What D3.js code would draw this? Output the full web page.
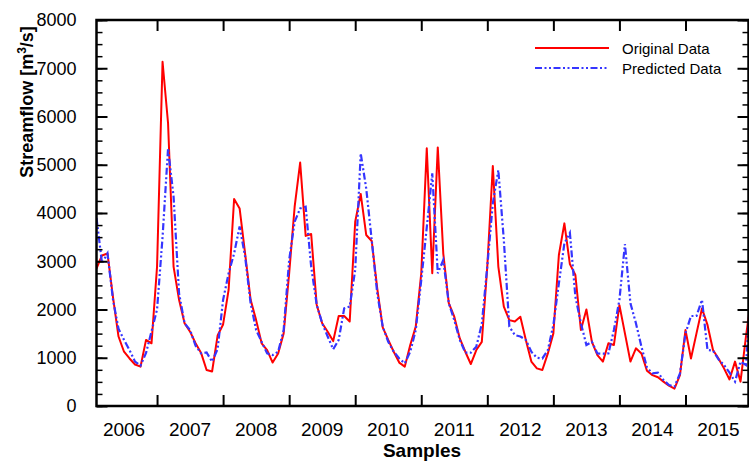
<!DOCTYPE html>
<html>
<head>
<meta charset="utf-8">
<script src="https://cdn.jsdelivr.net/npm/d3@7"></script>
<style>
  body { margin: 0; background: #fff; }
  svg { display: block; font-family: "Liberation Sans", Arial, sans-serif; }
</style>
</head>
<body>
<svg id="chart" width="749" height="463"></svg>
<script>
// monthly samples
var original = [2850, 3120, 3160, 2250, 1440, 1125, 985, 860, 815, 1370, 1300, 2890,
  7135, 5860, 2890, 2200, 1715, 1540, 1300, 1100, 745, 715, 1460, 1690,
  2405, 4290, 4095, 3160, 2200, 1780, 1300, 1160, 900, 1090, 1505, 2750,
  4130, 5045, 3525, 3565, 2100, 1715, 1540, 1345, 1865, 1865, 1750, 3820,
  4395, 3545, 3420, 2440, 1630, 1370, 1125, 900, 815, 1265, 1645, 2750,
  5340, 2750, 5360, 3160, 2130, 1850, 1400, 1125, 870, 1160, 1330, 2900,
  4975, 2890, 2060, 1780, 1750, 1850, 1370, 920, 780, 745, 1090, 1505,
  3130, 3785, 2940, 2715, 1575, 2000, 1330, 1055, 920, 1300, 1265, 2090,
  1505, 920, 1195, 1090, 730, 640, 595, 505, 420, 360, 640, 1575,
  985, 1505, 2020, 1680, 1160, 985, 780, 550, 920, 505, 1450, 2300];

var predicted = [3900, 2960, 3160, 2200, 1600, 1370, 1160, 920, 840, 1100, 1550, 2000,
  3500, 5340, 4340, 2335, 1715, 1575, 1250, 1090, 1110, 920, 1180, 2200,
  2750, 3160, 3720, 3095, 2130, 1575, 1330, 1090, 1055, 1125, 1575, 3025,
  3820, 4095, 4130, 2890, 2100, 1715, 1440, 1175, 1370, 2025, 2060, 2820,
  5235, 4510, 3440, 2335, 1645, 1330, 1125, 985, 885, 1125, 1575, 2610,
  3700, 4820, 2750, 3025, 2130, 1780, 1370, 1105, 1105, 1230, 1700, 2900,
  4200, 4890, 3440, 1645, 1470, 1440, 1370, 1125, 1000, 985, 1160, 1680,
  2540, 3370, 3590, 2265, 1715, 1265, 1330, 1090, 1085, 1090, 1575, 2200,
  3355, 2130, 1715, 1230, 800, 675, 690, 540, 435, 400, 675, 1505,
  1865, 1865, 2200, 1160, 1150, 965, 850, 690, 505, 920, 850, 2700];

var years = [2006, 2007, 2008, 2009, 2010, 2011, 2012, 2013, 2014, 2015];
var yTicks = [0, 1000, 2000, 3000, 4000, 5000, 6000, 7000, 8000];
var firstYearStart = -1;   // sample index where 2006 begins

var svg = d3.select("#chart");
var pL = 96.5, pR = 748.5, pT = 20, pB = 406;

var x = d3.scaleLinear().domain([0, 118.45]).range([pL, pR]);
var y = d3.scaleLinear().domain([0, 8000]).range([pB, pT]);

var yearEdges = years.slice(1).map(function(yr, k) { return firstYearStart + 12 * (k + 1); });
var yearMids = years.map(function(yr, k) { return firstYearStart + 12 * k + 6; });

svg.append("clipPath").attr("id", "plotclip")
  .append("rect").attr("x", pL).attr("y", pT)
  .attr("width", pR - pL).attr("height", pB - pT);

// lines
var line = d3.line()
  .x(function(d, i) { return x(i); })
  .y(function(d) { return y(d); });

var g = svg.append("g").attr("clip-path", "url(#plotclip)");
g.append("path")
  .datum(original)
  .attr("fill", "none")
  .attr("stroke", "#ff0000")
  .attr("stroke-width", 2)
  .attr("stroke-linejoin", "round")
  .attr("d", line);
g.append("path")
  .datum(predicted)
  .attr("fill", "none")
  .attr("stroke", "#3535ff")
  .attr("stroke-width", 2.2)
  .attr("stroke-dasharray", "7,2.5,2,2.5,2,2.5")
  .attr("d", line);

// axes
function styleAxis(sel, w) {
  sel.select(".domain").remove();
  sel.selectAll(".tick line").attr("stroke", "#000").attr("stroke-width", w);
}

var minorY = d3.range(0, 8001, 250);

svg.append("g").attr("transform", "translate(" + pL + ",0)")
  .call(d3.axisLeft(y).tickValues(minorY).tickSize(-6).tickFormat(""))
  .call(styleAxis, 1.5);
svg.append("g").attr("transform", "translate(" + pL + ",0)")
  .call(d3.axisLeft(y).tickValues(yTicks).tickSize(-11).tickPadding(20).tickFormat(d3.format("d")))
  .call(styleAxis, 2)
  .selectAll("text").attr("font-size", 18).attr("fill", "#000");

svg.append("g").attr("transform", "translate(" + pR + ",0)")
  .call(d3.axisRight(y).tickValues(minorY).tickSize(-6).tickFormat(""))
  .call(styleAxis, 1.5);
svg.append("g").attr("transform", "translate(" + pR + ",0)")
  .call(d3.axisRight(y).tickValues(yTicks).tickSize(-11).tickFormat(""))
  .call(styleAxis, 2);

svg.append("g").attr("transform", "translate(0," + pB + ")")
  .call(d3.axisBottom(x).tickValues(yearEdges).tickSize(-11).tickFormat(""))
  .call(styleAxis, 2);
svg.append("g").attr("transform", "translate(0," + pT + ")")
  .call(d3.axisTop(x).tickValues(yearEdges).tickSize(-11).tickFormat(""))
  .call(styleAxis, 2);

svg.append("g").selectAll("text")
  .data(years)
  .enter().append("text")
  .attr("x", function(d, k) { return x(yearMids[k]); })
  .attr("y", 436)
  .attr("text-anchor", "middle")
  .attr("font-size", 19)
  .text(function(d) { return d; });

// frame
svg.append("rect")
  .attr("x", pL).attr("y", pT)
  .attr("width", pR - pL).attr("height", pB - pT)
  .attr("fill", "none").attr("stroke", "#000").attr("stroke-width", 2.5);

// titles
svg.append("text")
  .attr("x", 422).attr("y", 457)
  .attr("text-anchor", "middle")
  .attr("font-size", 19).attr("font-weight", "bold")
  .text("Samples");

var yt = svg.append("text")
  .attr("transform", "translate(33,102) rotate(-90)")
  .attr("text-anchor", "middle")
  .attr("font-size", 18).attr("font-weight", "bold");
yt.append("tspan").text("Streamflow [m");
yt.append("tspan").attr("font-size", 12).attr("dy", -7).text("3");
yt.append("tspan").attr("dy", 7).text("/s]");

// legend
var legend = [
  {name: "Original Data", color: "#ff0000", dash: null, w: 2},
  {name: "Predicted Data", color: "#3535ff", dash: "7,2.5,2,2.5,2,2.5", w: 2.2}
];
var lg = svg.append("g");
legend.forEach(function(d, k) {
  var ly = 48 + k * 20;
  lg.append("line")
    .attr("x1", 535).attr("x2", 609)
    .attr("y1", ly).attr("y2", ly)
    .attr("stroke", d.color).attr("stroke-width", d.w)
    .attr("stroke-dasharray", d.dash);
  lg.append("text")
    .attr("x", 622).attr("y", ly + 6)
    .attr("font-size", 15)
    .text(d.name);
});
</script>
</body>
</html>
